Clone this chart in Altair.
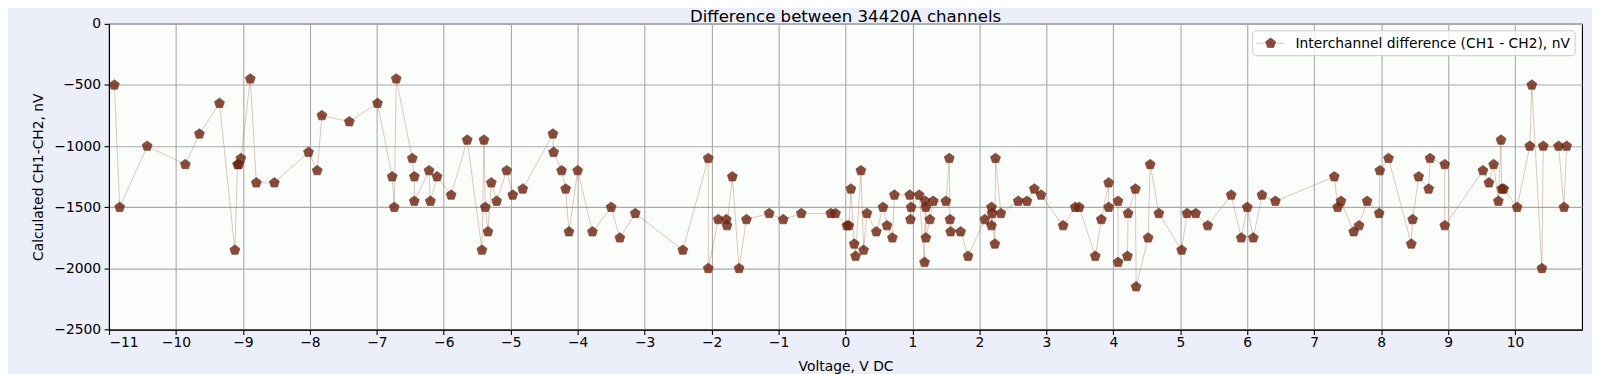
import altair as alt
import pandas as pd

# ---- data ----
voltage = [
    -10.92, -10.84, -10.43, -9.86, -9.65, -9.35, -9.12, -9.08, -9.06, -9.03,
    -8.89, -8.80, -8.53, -8.02, -7.89, -7.82, -7.41, -6.99, -6.77, -6.74,
    -6.71, -6.47, -6.44, -6.44, -6.22, -6.20, -6.10, -5.89, -5.65, -5.43,
    -5.40, -5.38, -5.34, -5.29, -5.21, -5.06, -4.97, -4.82, -4.37, -4.36,
    -4.24, -4.18, -4.13, -4.00, -3.78, -3.50, -3.37, -3.14, -2.43, -2.05,
    -2.05, -1.90, -1.78, -1.77, -1.69, -1.59, -1.48, -1.14, -0.93, -0.66,
    -0.22, -0.15, 0.02, 0.05, 0.08, 0.13, 0.15, 0.23, 0.27, 0.32,
    0.46, 0.56, 0.62, 0.70, 0.73, 0.96, 0.97, 0.98, 1.10, 1.18,
    1.19, 1.20, 1.20, 1.26, 1.31, 1.50, 1.55, 1.56, 1.57, 1.72,
    1.83, 2.08, 2.18, 2.18, 2.19, 2.23, 2.24, 2.32, 2.58, 2.71,
    2.82, 2.92, 3.25, 3.43, 3.49, 3.73, 3.82, 3.93, 3.93, 4.07,
    4.07, 4.21, 4.22, 4.33, 4.34, 4.52, 4.55, 4.68, 5.02, 5.10,
    5.23, 5.41, 5.76, 5.91, 6.00, 6.09, 6.22, 6.42, 7.30, 7.35,
    7.40, 7.59, 7.67, 7.79, 7.97, 7.98, 8.11, 8.45, 8.47, 8.56,
    8.71, 8.73, 8.95, 8.95, 9.52, 9.61, 9.68, 9.75, 9.79, 9.80,
    9.83, 10.03, 10.22, 10.25, 10.40, 10.42, 10.65, 10.73, 10.77,
]
diff_nv = [
    -500, -1500, -1000, -1150, -900, -650, -1850, -1150, -1150, -1100,
    -450, -1300, -1300, -1050, -1200, -750, -800, -650, -1250, -1500,
    -450, -1100, -1250, -1450, -1200, -1450, -1250, -1400, -950, -1850,
    -950, -1500, -1700, -1300, -1450, -1200, -1400, -1350, -900, -1050,
    -1200, -1350, -1700, -1200, -1700, -1500, -1750, -1550, -1850, -1100,
    -2000, -1600, -1600, -1650, -1250, -2000, -1600, -1550, -1600, -1550,
    -1550, -1550, -1650, -1650, -1350, -1800, -1900, -1200, -1850, -1550,
    -1700, -1500, -1650, -1750, -1400, -1400, -1600, -1500, -1400, -1950,
    -1450, -1500, -1750, -1600, -1450, -1450, -1100, -1600, -1700, -1700,
    -1900, -1600, -1500, -1650, -1550, -1800, -1100, -1550, -1450, -1450,
    -1350, -1400, -1650, -1500, -1500, -1900, -1600, -1300, -1500, -1450,
    -1950, -1900, -1550, -1350, -2150, -1750, -1150, -1550, -1850, -1550,
    -1550, -1650, -1400, -1750, -1500, -1750, -1400, -1450, -1250, -1500,
    -1450, -1700, -1650, -1450, -1550, -1200, -1100, -1800, -1600, -1250,
    -1350, -1100, -1150, -1650, -1200, -1300, -1150, -1450, -950, -1350,
    -1350, -1500, -1000, -500, -2000, -1000, -1000, -1500, -1000,
]
series_label = "Interchannel difference (CH1 - CH2), nV"
chart_title = "Difference between 34420A channels"
x_ticks = list(range(-11, 11))
y_ticks = [-2500, -2000, -1500, -1000, -500, 0]

df = pd.DataFrame({
    "i": list(range(len(voltage))),
    "v": voltage,
    "d": diff_nv,
})
legend_df = pd.DataFrame({"label": [series_label]})
title_df = pd.DataFrame({"t": [chart_title]})

PENT = "M0,-1L0.951,-0.309L0.588,0.809L-0.588,0.809L-0.951,-0.309Z"
FONT = "DejaVu Sans"
BROWN = "#722511"
EDGE = "#5e1c0a"
LINE_C = "#A0522D"

W, H = 1480.5, 307.3

x_enc = alt.X(
    "v:Q",
    scale=alt.Scale(domain=[-11, 11], nice=False, zero=False),
    axis=alt.Axis(values=x_ticks, format="d", title="Voltage, V DC",
                  labelPadding=1.5, titlePadding=10),
)
y_enc = alt.Y(
    "d:Q",
    scale=alt.Scale(domain=[-2500, 0], nice=False),
    axis=alt.Axis(values=y_ticks, format="d", title="Calculated CH1-CH2, nV",
                  labelPadding=3.5, titlePadding=8),
)

line = alt.Chart(df).mark_line(
    color=LINE_C, opacity=0.4, strokeWidth=0.8
).encode(x=x_enc, y=y_enc, order=alt.Order("i:Q"))

pts = alt.Chart(df).mark_point(
    filled=True, shape=PENT, size=110, opacity=0.82,
    color=BROWN, stroke=EDGE, strokeWidth=0.7,
).encode(x=x_enc, y=y_enc)

# ---- legend box (upper right, inside the plot) ----
leg_box = alt.Chart(legend_df).mark_rect(
    fill="white", fillOpacity=0.8, stroke="#cccccc", strokeWidth=1,
    cornerRadius=3,
).encode(x=alt.value(1149.5), x2=alt.value(1473.5),
         y=alt.value(7), y2=alt.value(32))

leg_line = alt.Chart(legend_df).mark_rule(
    color=LINE_C, opacity=0.4, strokeWidth=0.8
).encode(x=alt.value(1153.5), x2=alt.value(1181.5), y=alt.value(19.5))

leg_pt = alt.Chart(legend_df).mark_point(
    filled=True, shape=PENT, size=110, opacity=0.82,
    color=BROWN, stroke=EDGE, strokeWidth=0.7,
).encode(x=alt.value(1167.5), y=alt.value(19.5))

leg_text = alt.Chart(legend_df).mark_text(
    align="left", baseline="alphabetic", font=FONT, fontSize=13.9,
    color="black",
).encode(text="label:N", x=alt.value(1192.5), y=alt.value(24))

# ---- chart title (drawn just above the plot frame) ----
title_mark = alt.Chart(title_df).mark_text(
    align="center", baseline="alphabetic", font=FONT, fontSize=16.67,
    color="black",
).encode(text="t:N", x=alt.value(W / 2), y=alt.value(-2))

chart = alt.layer(
    line, pts, leg_box, leg_line, leg_pt, leg_text, title_mark
).properties(
    width=W,
    height=H,
    autosize=alt.AutoSizeParams(type="none"),
    padding={"left": 101.5, "top": 15, "right": 10, "bottom": 43.7},
    background="#ECEEFA",
).configure_view(
    fill="#FAFDFA", stroke="black", strokeWidth=1.1,
).configure_axis(
    domainColor="black", domainWidth=1.1,
    tickColor="black", tickWidth=1.1, tickSize=4.9,
    grid=True, gridColor="#aaaaaa", gridWidth=1.1,
    labelFont=FONT, labelFontSize=13.9, labelColor="black",
    titleFont=FONT, titleFontSize=13.9, titleFontWeight="normal",
    titleColor="black",
)

chart.save("out.html", embed_options={"renderer": "svg", "actions": False})
